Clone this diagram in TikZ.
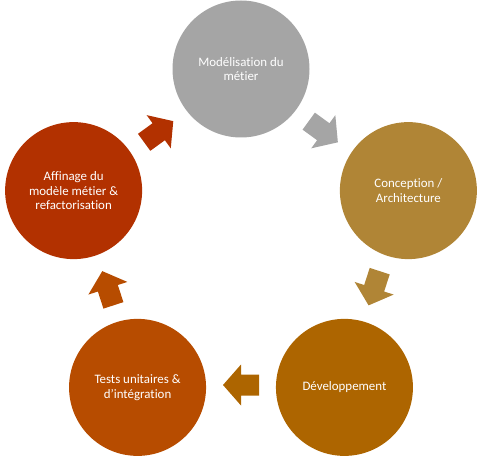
\documentclass[tikz,border=0pt]{standalone}
\usepackage{fontspec}
\setmainfont[Ligatures=NoCommon]{Carlito}
\usetikzlibrary{calc}
\definecolor{cgray}{RGB}{165,165,165}
\definecolor{cgold}{RGB}{176,133,54}
\definecolor{cbrown}{RGB}{173,101,0}
\definecolor{corange}{RGB}{183,76,0}
\definecolor{cred}{RGB}{178,49,0}
\tikzset{
  stage/.style={circle, minimum size=137pt, inner sep=0pt, text=white, align=center,
    font=\fontsize{12.9}{14.7}\selectfont},
  blockarrow/.pic={\fill (-18,-10.5) -- (0,-10.5) -- (0,-20.5) -- (18,0) -- (0,20.5)
    -- (0,10.5) -- (-18,10.5) -- cycle;}
}
\begin{document}
\begin{tikzpicture}[x=1pt,y=1pt]
\useasboundingbox (0,0) rectangle (481,458);
\coordinate (c) at (241,213);
\node[stage, fill=cgray]   (m) at ($(c)+(90:176)$)  {Modélisation du\\métier};
\node[stage, fill=cgold]   (a) at ($(c)+(18:176)$)  {Conception /\\Architecture};
\node[stage, fill=cbrown]  (d) at ($(c)+(-54:176)$) {Développement};
\node[stage, fill=corange] (t) at ($(c)+(-126:176)$) {Tests unitaires \&\\d’intégration};
\node[stage, fill=cred]    (r) at ($(c)+(162:176)$) {Affinage du\\modèle métier \&\\refactorisation};
\pic[cgray, rotate=-36]   (ma) at ($(c)+(54:140)$)   {blockarrow};
\pic[cgold, rotate=-108]  (ad) at ($(c)+(-18:140)$)  {blockarrow};
\pic[cbrown, rotate=180]  (dt) at ($(c)+(-90:140)$)  {blockarrow};
\pic[corange, rotate=108] (tr) at ($(c)+(-162:140)$) {blockarrow};
\pic[cred, rotate=36]     (rm) at ($(c)+(126:140)$)  {blockarrow};
\end{tikzpicture}
\end{document}
